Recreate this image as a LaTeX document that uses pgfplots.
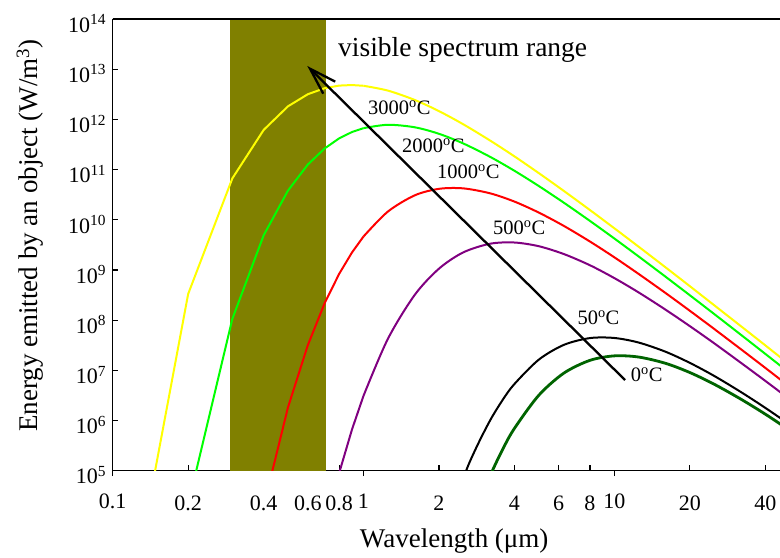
\documentclass[border=0pt]{standalone}
\usepackage{fontspec}
\setmainfont{Liberation Serif}
\usepackage{pgfplots}
\pgfplotsset{compat=1.18}
\usetikzlibrary{arrows.meta}
\definecolor{olivebar}{RGB}{128,128,0}
\definecolor{dkgreen}{RGB}{0,100,0}
\definecolor{limeg}{RGB}{0,255,0}
\definecolor{yell}{RGB}{255,255,0}
\definecolor{purp}{RGB}{128,0,128}
\newcommand{\yl}[1]{\raisebox{-4.5bp}[\height][\depth]{10\textsuperscript{#1}}}
\newcommand{\xl}[1]{\raisebox{8bp}[\height][\depth]{#1}}
\begin{document}
\begin{tikzpicture}
\begin{axis}[
  name=a,
  scale only axis, width=667.3bp, height=451.7bp,
  at={(0,0)}, anchor=south west,
  xmode=log, ymode=log,
  xmin=0.1, xmax=45.8, ymin=1e5, ymax=1e14,
  axis lines*=left,
  axis line style={line width=1.3bp, black},
  every tick/.style={black, line width=1.2bp},
  xminorticks=false, yminorticks=false,
  tick align=inside,
  major tick length=5.5bp,
  xtick={0.2,0.4,0.6,0.8,2,4,6,8,20,40},
  xticklabels={0.2,0.4,0.6,0.8,2,4,6,8,20,40},
  extra x ticks={0.1,1,10},
  extra x tick labels={\xl{0.1},\xl{1},\xl{10}},
  extra x tick style={tick align=outside},
  ytick={1e5,1e6,1e7,1e8,1e9,1e10,1e11,1e12,1e13,1e14},
  yticklabels={\yl{5},\yl{6},\yl{7},\yl{8},\yl{9},\yl{10},\yl{11},\yl{12},\yl{13},\yl{14}},
  tick label style={font=\fontsize{22bp}{26bp}\selectfont, inner sep=0pt},
  xticklabel shift=25.4bp,
  yticklabel shift=6.5bp,
  xlabel={Wavelength (μm)},
  ylabel={Energy emitted by an object (W/m\textsuperscript{3})},
  xlabel style={font=\fontsize{27bp}{32bp}\selectfont, at={(axis description cs:0.51176,-0.16958)}, anchor=base, inner sep=0pt},
  ylabel style={font=\fontsize{27bp}{32bp}\selectfont, at={(axis description cs:-0.11194,0.52070)}, anchor=base, inner sep=0pt},
]
% visible band
\addplot[fill=olivebar, draw=none, forget plot] coordinates {(0.2935,1e4) (0.2935,1e15) (0.7087,1e15) (0.7087,1e4)};

% 0 C
\addplot[dkgreen, line width=2.8bp, smooth] coordinates {(2.5,2.71e3) (2.8,1.47e4) (3.2,7.92e4) (3.6,2.74e5) (4,6.98e5) (5,3.18e6) (6.3,8.82e6) (8,1.58e7) (10,1.94e7) (12.5,1.84e7) (16,1.38e7) (20,9.05e6) (25,5.30e6) (32,2.66e6) (40,1.34e6) (50,6.41e5)};
% 50 C
\addplot[black, line width=2bp, smooth] coordinates {(2,2.51e3) (2.5,7.06e4) (2.8,2.70e5) (3.2,1.01e6) (3.6,2.63e6) (4,5.35e6) (5,1.63e7) (6.3,3.22e7) (8,4.39e7) (10,4.41e7) (12.5,3.58e7) (16,2.35e7) (20,1.41e7) (25,7.76e6) (32,3.69e6) (40,1.79e6) (50,8.34e5)};
% 500 C
\addplot[purp, line width=2bp] coordinates {(0.7,6.34e3) (0.8,9.02e4) (0.9,6.64e5) (1.0,3.10e6)};
\addplot[purp, line width=2bp, smooth] coordinates {(1.0,3.10e6) (1.25,4.20e7) (1.6,3.17e8) (2,1.06e9) (2.5,2.24e9) (3.2,3.33e9) (4,3.52e9) (5,2.97e9) (6.3,2.07e9) (8,1.24e9) (10,6.89e8) (12.5,3.57e8) (16,1.62e8) (20,7.61e7) (25,3.47e7) (32,1.41e7) (40,6.17e6) (50,2.66e6)};
% 1000 C
\addplot[red, line width=2bp] coordinates {(0.3,6.73) (0.4,1.96e4) (0.5,1.83e6) (0.6,3.18e7) (0.7,2.17e8) (0.8,8.37e8) (0.9,2.23e9) (1.0,4.63e9)};
\addplot[red, line width=2bp, smooth] coordinates {(1.0,4.63e9) (1.25,1.45e10) (1.6,3.06e10) (2,4.13e10) (2.5,4.22e10) (3.2,3.36e10) (4,2.30e10) (5,1.39e10) (6.3,7.52e9) (8,3.68e9) (10,1.79e9) (12.5,8.34e8) (16,3.48e8) (20,1.54e8) (25,6.70e7) (32,2.63e7) (40,1.12e7) (50,4.72e6)};
% 2000 C
\addplot[limeg, line width=2bp] coordinates {(0.1,1.22e-8) (0.2,2.11e4) (0.3,1.06e8) (0.4,4.91e9) (0.5,3.81e10) (0.6,1.26e11) (0.7,2.63e11) (0.8,4.19e11) (0.9,5.60e11) (1.0,6.68e11)};
\addplot[limeg, line width=2bp, smooth] coordinates {(1.0,6.68e11) (1.25,7.80e11) (1.6,6.96e11) (2,5.16e11) (2.5,3.31e11) (3.2,1.79e11) (4,9.45e10) (5,4.70e10) (6.3,2.18e10) (8,9.47e9) (10,4.24e9) (12.5,1.86e9) (16,7.35e8) (20,3.14e8) (25,1.33e8) (32,5.10e7) (40,2.13e7) (50,8.87e6)};
% 3000 C
\addplot[yell, line width=2bp] coordinates {(0.1,3.04) (0.2,3.33e8) (0.3,6.67e10) (0.4,6.17e11) (0.5,1.82e12) (0.6,3.17e12) (0.7,4.18e12) (0.8,4.71e12) (0.9,4.83e12) (1.0,4.67e12)};
\addplot[yell, line width=2bp, smooth] coordinates {(1.0,4.67e12) (1.25,3.75e12) (1.6,2.44e12) (2,1.46e12) (2.5,7.98e11) (3.2,3.78e11) (4,1.83e11) (5,8.50e10) (6.3,3.74e10) (8,1.56e10) (10,6.78e9) (12.5,2.91e9) (16,1.13e9) (20,4.76e8) (25,1.99e8) (32,7.57e7) (40,3.15e7) (50,1.30e7)};

% arrow
\draw[line width=2.3bp, -{Straight Barb[length=27bp, width=17bp]}] (axis description cs:0.76773,0.20079) -- (axis description cs:0.29162,0.89595);

% labels
\node[anchor=base west, inner sep=0pt, font=\fontsize{27.5bp}{31bp}\selectfont] at (axis description cs:0.33763,0.91587) {visible spectrum range};
\node[anchor=base west, inner sep=0pt, font=\fontsize{20.5bp}{24bp}\selectfont] at (axis description cs:0.38259,0.78747) {3000\textsuperscript{o}C};
\node[anchor=base west, inner sep=0pt, font=\fontsize{20.5bp}{24bp}\selectfont] at (axis description cs:0.43354,0.70401) {2000\textsuperscript{o}C};
\node[anchor=base west, inner sep=0pt, font=\fontsize{20.5bp}{24bp}\selectfont] at (axis description cs:0.48599,0.64645) {1000\textsuperscript{o}C};
\node[anchor=base west, inner sep=0pt, font=\fontsize{20.5bp}{24bp}\selectfont] at (axis description cs:0.56991,0.52181) {500\textsuperscript{o}C};
\node[anchor=base west, inner sep=0pt, font=\fontsize{20.5bp}{24bp}\selectfont] at (axis description cs:0.69624,0.32256) {50\textsuperscript{o}C};
\node[anchor=base west, inner sep=0pt, font=\fontsize{20.5bp}{24bp}\selectfont] at (axis description cs:0.77627,0.19703) {0\textsuperscript{o}C};
\end{axis}
\draw[line width=1.3bp, black] (a.north west) -- (a.north east);
\pgfresetboundingbox
\path (-112.7bp,-87.3bp) rectangle (667.3bp,470.7bp);
\end{tikzpicture}
\end{document}
